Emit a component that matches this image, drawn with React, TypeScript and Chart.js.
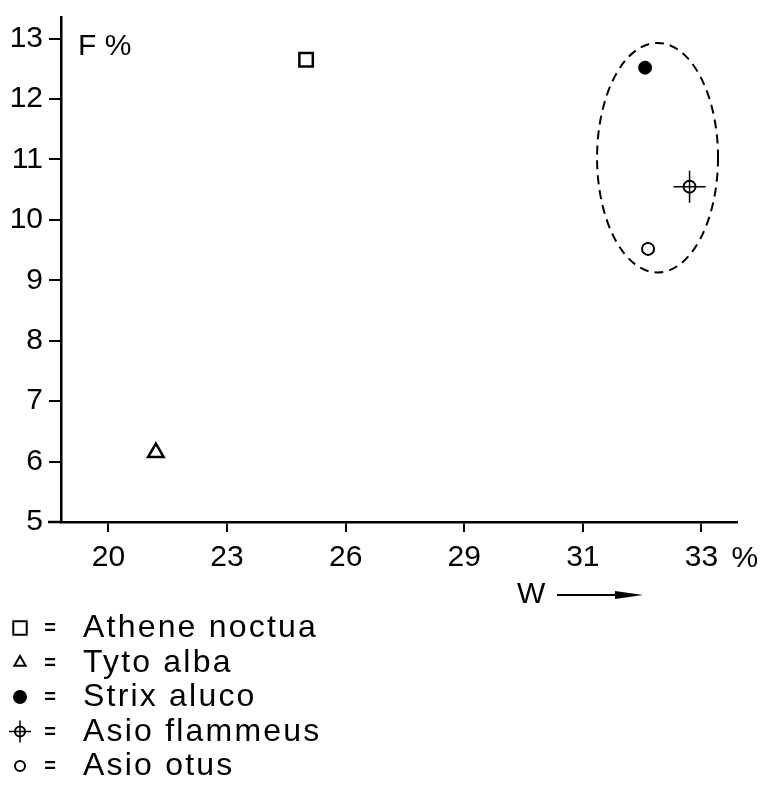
import React, { useEffect, useRef } from 'react';
import { Chart, registerables } from 'chart.js';
import { drawPoint } from 'chart.js/helpers';

Chart.register(...registerables);

// ---- data ----
const xTickValues = [20, 23, 26, 29, 31, 33]; // W %
const yTickValues = [5, 6, 7, 8, 9, 10, 11, 12, 13]; // F %
const xRange = [18.8, 33.6];
const yRange = [5, 13.35];

const species = ['Athene noctua', 'Tyto alba', 'Strix aluco', 'Asio flammeus', 'Asio otus'];
const wValues = [25.0, 21.2, 32.05, 32.8, 32.1];
const fValues = [12.65, 6.15, 12.52, 10.55, 9.52];

// dashed outline round the Strix / Asio group (W, F centre and half-widths)
const clusterCenter = [32.26, 11.03];
const clusterHalf = [1.02, 1.9];

// ---- styles ----
const FONT = "'Liberation Sans', Arial, sans-serif";
const markerStyles = [
  { pointStyle: 'rect', radius: 9.5, borderWidth: 2.5, fill: false, legendRadius: 9.5 },
  { pointStyle: 'triangle', radius: 9, borderWidth: 2.5, fill: false, legendRadius: 6.5 },
  { pointStyle: 'circle', radius: 6.5, borderWidth: 1, fill: true, legendRadius: 6 },
  { pointStyle: 'circle', radius: 6, borderWidth: 2, fill: false, legendRadius: 5, cross: 16, legendCross: 11 },
  { pointStyle: 'circle', radius: 6, borderWidth: 2, fill: false, legendRadius: 5 },
];

// W values are placed on an axis whose labelled ticks are evenly spaced
function wToIdx(w: number): number {
  const t = xTickValues;
  let i = 0;
  if (w <= t[0]) i = 0;
  else if (w >= t[t.length - 1]) i = t.length - 2;
  else {
    while (w > t[i + 1]) i++;
  }
  return i + (w - t[i]) / (t[i + 1] - t[i]);
}

const figurePlugin = {
  id: 'figureExtras',
  beforeDatasetsDraw(chart: any) {
    const { ctx, scales } = chart;
    const x = scales.x;
    const y = scales.y;
    const cx = x.getPixelForValue(wToIdx(clusterCenter[0]));
    const rx = x.getPixelForValue(wToIdx(clusterCenter[0] + clusterHalf[0])) - cx;
    const cy = y.getPixelForValue(clusterCenter[1]);
    const ry = cy - y.getPixelForValue(clusterCenter[1] + clusterHalf[1]);
    ctx.save();
    ctx.setLineDash([9, 6]);
    ctx.lineWidth = 2;
    ctx.strokeStyle = '#000';
    ctx.beginPath();
    ctx.ellipse(cx, cy, rx, ry, 0, 0, Math.PI * 2);
    ctx.stroke();
    ctx.restore();
  },
  afterDraw(chart: any) {
    const { ctx, chartArea, scales } = chart;
    const x = scales.x;
    ctx.save();
    ctx.fillStyle = '#000';
    ctx.strokeStyle = '#000';
    ctx.textBaseline = 'alphabetic';
    ctx.textAlign = 'left';

    // small overshoot of the x axis to the left of the y axis
    ctx.lineWidth = 2.5;
    ctx.beginPath();
    ctx.moveTo(chartArea.left - 13, chartArea.bottom);
    ctx.lineTo(chartArea.left, chartArea.bottom);
    ctx.stroke();

    // y-axis title
    ctx.font = `30px ${FONT}`;
    ctx.fillText('F %', chartArea.left + 17, chartArea.top + 37);

    // percent sign after last x tick
    const lastX = x.getPixelForValue(xTickValues.length - 1);
    ctx.fillText('%', lastX + 30, chartArea.bottom + 45);

    // x-axis title with arrow
    const wx = chartArea.left + 456;
    const wy = chartArea.bottom + 81;
    ctx.fillText('W', wx, wy);
    ctx.lineWidth = 2;
    ctx.beginPath();
    ctx.moveTo(wx + 40, wy - 8);
    ctx.lineTo(wx + 105, wy - 8);
    ctx.stroke();
    ctx.beginPath();
    ctx.moveTo(wx + 98, wy - 12);
    ctx.lineTo(wx + 126, wy - 8);
    ctx.lineTo(wx + 98, wy - 4);
    ctx.closePath();
    ctx.fill();

    // legend
    const baseY = chartArea.bottom + 115;
    const rowGap = 34.5;
    species.forEach((name, k) => {
      const st = markerStyles[k];
      const by = baseY + k * rowGap;
      const sy = by - 9;
      ctx.save();
      ctx.lineWidth = 2;
      ctx.fillStyle = st.fill ? '#000' : 'rgba(0,0,0,0)';
      ctx.strokeStyle = '#000';
      drawPoint(ctx, { pointStyle: st.pointStyle, radius: st.legendRadius, rotation: 0, borderWidth: 2 }, 20, sy);
      if (st.legendCross) {
        ctx.lineWidth = 1.5;
        drawPoint(ctx, { pointStyle: 'cross', radius: st.legendCross, rotation: 0, borderWidth: 1.5 }, 20, sy);
      }
      ctx.restore();
      ctx.fillStyle = '#000';
      ctx.font = `bold 20px ${FONT}`;
      ctx.textAlign = 'center';
      ctx.fillText('=', 50, by - 3);
      ctx.textAlign = 'left';
      ctx.font = `32px ${FONT}`;
      (ctx as any).letterSpacing = '2.2px';
      ctx.fillText(name, 83, by);
      (ctx as any).letterSpacing = '0px';
    });
    ctx.restore();
  },
};

export default function App() {
  const ref = useRef<HTMLCanvasElement | null>(null);

  useEffect(() => {
    if (!ref.current) return;
    const datasets: any[] = species.map((name, k) => {
      const st = markerStyles[k];
      return {
        label: name,
        data: [{ x: wToIdx(wValues[k]), y: fValues[k] }],
        pointStyle: st.pointStyle,
        pointRadius: st.radius,
        borderWidth: st.borderWidth,
        borderColor: '#000',
        backgroundColor: st.fill ? '#000' : 'rgba(0,0,0,0)',
        showLine: false,
      };
    });
    markerStyles.forEach((st, k) => {
      if (st.cross) {
        datasets.push({
          label: species[k] + ' (cross)',
          data: [{ x: wToIdx(wValues[k]), y: fValues[k] }],
          pointStyle: 'cross',
          pointRadius: st.cross,
          borderWidth: 1.5,
          borderColor: '#000',
          backgroundColor: '#000',
          showLine: false,
        });
      }
    });

    const chart = new Chart(ref.current, {
      type: 'scatter',
      data: { datasets },
      options: {
        animation: false,
        responsive: false,
        events: [],
        layout: { padding: { top: 15, right: 25, left: 0, bottom: 0 } },
        plugins: {
          legend: { display: false },
          tooltip: { enabled: false },
        },
        scales: {
          x: {
            type: 'linear',
            min: wToIdx(xRange[0]),
            max: wToIdx(xRange[1]),
            afterBuildTicks: (scale: any) => {
              scale.ticks = xTickValues.map((_, i) => ({ value: i }));
            },
            afterFit: (scale: any) => {
              scale.height = 263;
              scale.paddingLeft = 0;
              scale.paddingRight = 0;
            },
            ticks: {
              autoSkip: false,
              maxRotation: 0,
              padding: 8,
              color: '#000',
              font: { family: FONT, size: 30 },
              callback: (_v: any, i: number) => String(xTickValues[i]),
            },
            grid: {
              drawOnChartArea: false,
              drawTicks: true,
              tickLength: 10,
              color: '#000',
              lineWidth: 2,
            },
            border: { display: true, color: '#000', width: 2.5 },
          },
          y: {
            type: 'linear',
            min: yRange[0],
            max: yRange[1],
            afterBuildTicks: (scale: any) => {
              scale.ticks = yTickValues.map((v) => ({ value: v }));
            },
            afterFit: (scale: any) => {
              scale.width = 61;
              scale.paddingTop = 0;
              scale.paddingBottom = 0;
            },
            ticks: {
              autoSkip: false,
              padding: 6,
              color: '#000',
              font: { family: FONT, size: 30 },
              callback: (v: any) => String(v),
            },
            grid: {
              drawOnChartArea: false,
              drawTicks: true,
              tickLength: 12,
              color: '#000',
              lineWidth: 2,
            },
            border: { display: true, color: '#000', width: 2.5 },
          },
        },
      },
      plugins: [figurePlugin],
    } as any);

    return () => chart.destroy();
  }, []);

  return (
    <div style={{ position: 'absolute', left: 0, top: 0, width: 762, height: 785, background: '#fff' }}>
      <canvas ref={ref} width={762} height={785} style={{ display: 'block' }} />
    </div>
  );
}
